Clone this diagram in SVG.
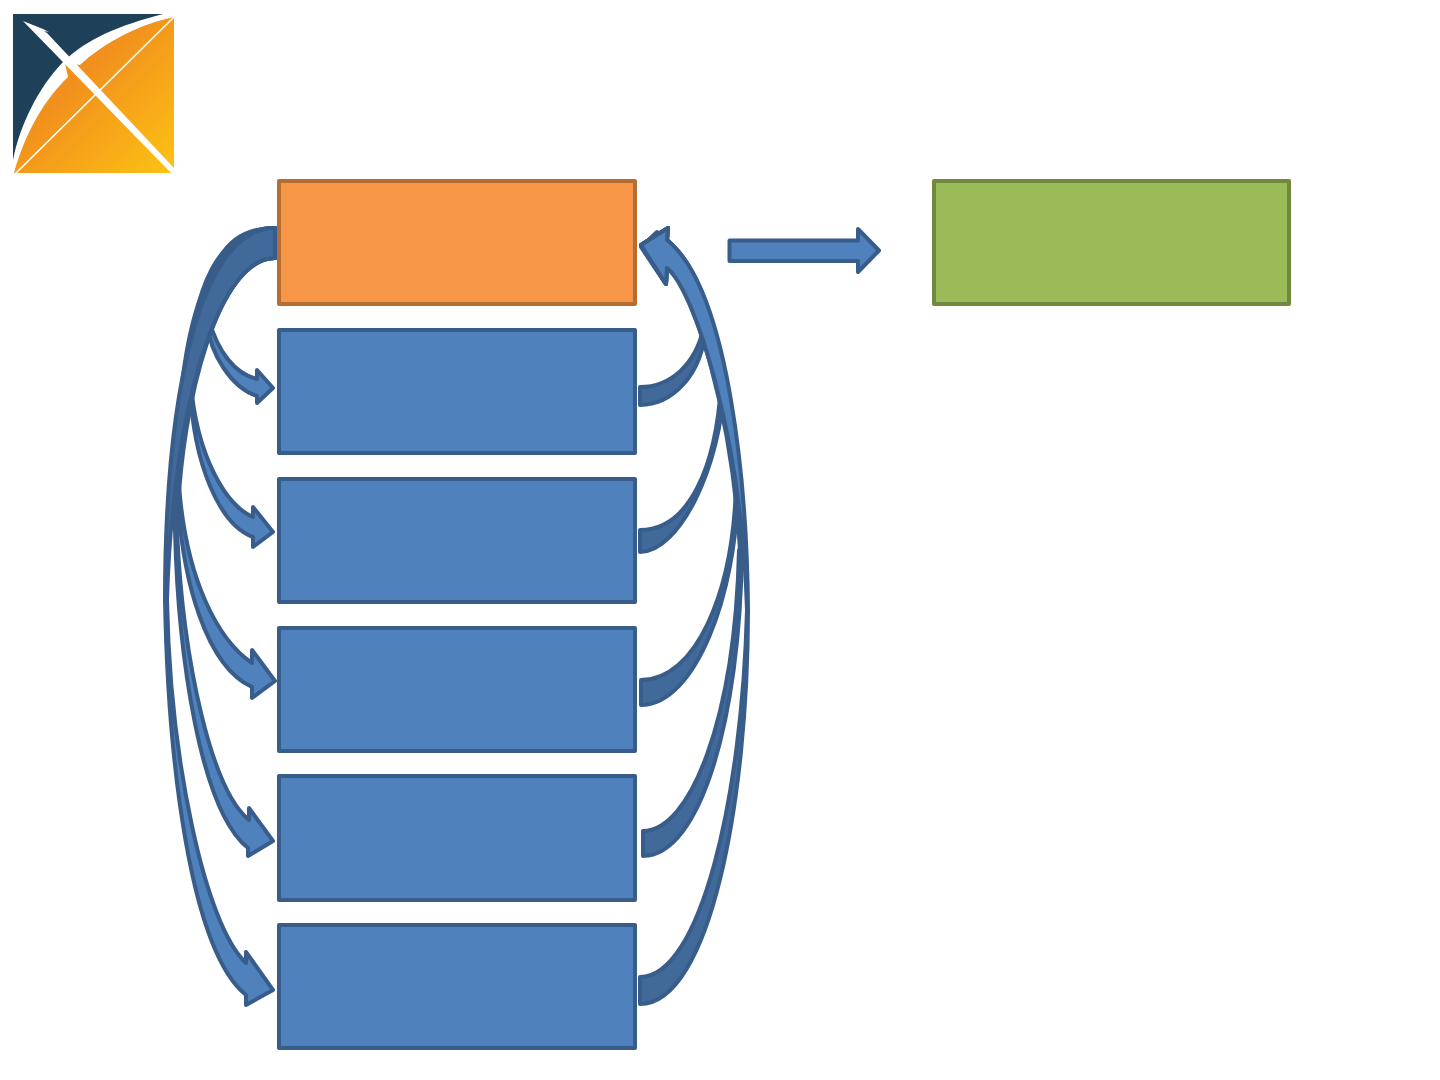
<svg xmlns="http://www.w3.org/2000/svg" width="1440" height="1080" viewBox="0 0 1440 1080">
<style>
.box{stroke-width:4;stroke-linejoin:round}
.blue{fill:#4f81bd;stroke:#385d8a}
.back{fill:#41699a;stroke:#385d8a;stroke-width:4;stroke-linejoin:round}
.front{fill:#4f81bd;stroke:#385d8a;stroke-width:4;stroke-linejoin:round}
</style>
<defs>
<linearGradient id="og" gradientUnits="userSpaceOnUse" x1="70" y1="70" x2="175" y2="175">
<stop offset="0" stop-color="#f18c1e"/><stop offset="1" stop-color="#fcc314"/>
</linearGradient>
</defs>
<rect width="1440" height="1080" fill="#fff"/>
<g id="logo">
<path d="M13,14 L163,14 C118,26 88,38 63,62 C38,88 20,125 13,160 Z" fill="#1f4059"/>
<path d="M14,173 C26,130 46,98 68,77 L65,63 L80,65 C105,42 140,24 174,17 L174,173 Z" fill="url(#og)"/>
<path d="M23,21 L43,29 L49,32 L44,31 L47,33 L174,168 L174,173 L171,173 Z" fill="#fff"/>
<path d="M15,174 L174,17" stroke="#fff" stroke-width="1.6" fill="none"/>
</g>
<g id="connectors">
<path class="back" d="M275,228 C231,228 207,258 207,322 L209,320 C222,282 248,258 275,258 Z"/>
<path class="front" d="M207,322 C210,355 232,388 257,396 L257,403 L273,388 L257,370 L257,379 C235,374 218,352 209,320 Z"/>
<path class="back" d="M275,228 C220,228 190,285 190,385 L192,385 C200,315 235,258 275,258 Z"/>
<path class="front" d="M190,385 C193,465 220,525 253,537 L253,547 L273,532 L253,507 L253,517 C225,505 197,455 191,385 Z"/>
<path class="back" d="M275,228 C208,228 177,325 177,485 L179,485 C183,375 225,258 275,258 Z"/>
<path class="front" d="M177,485 C181,585 208,667 252,687 L252,698 L275,681 L252,650 L252,663 C218,640 186,580 179,485 Z"/>
<path class="back" d="M275,228 C205,228 175,345 175,530 L177,530 C181,395 220,258 275,258 Z"/>
<path class="front" d="M175,530 C178,655 200,810 248,848 L248,856 L273,841 L249,808 L249,820 C212,790 183,665 177,530 Z"/>
<path class="back" d="M275,228 C198,228 165,400 165,600 L167,600 C172,420 215,258 275,258 Z"/>
<path class="front" d="M165,600 C168,760 190,950 246,995 L246,1005 L273,990 L246,952 L246,963 C205,925 170,760 167,600 Z"/>
<path class="back" d="M640,387 C670,387 696,365 704,326 L706,326 C702,378 670,405 640,405 Z"/>
<path class="front" d="M706,324 C698,296 685,258 667,240 L657,232 L641,247 L665,283 L667,268 C680,275 694,296 704,324 Z"/>
<path class="back" d="M640,530 C690,530 716,465 721,385 L724,385 C721,465 680,552 640,552 Z"/>
<path class="front" d="M723,385 C716,335 700,270 667,240 L668,228 L641,245 L666,284 L667,268 C690,285 713,335 721,385 Z"/>
<path class="back" d="M641,680 C695,680 733,595 736,485 L738,485 C737,595 695,705 641,705 Z"/>
<path class="front" d="M738,485 C732,395 715,280 667,240 L668,228 L641,245 L666,284 L667,268 C693,288 726,385 736,485 Z"/>
<path class="back" d="M643,831 C690,831 735,720 739,550 L742,550 C740,720 700,856 643,856 Z"/>
<path class="front" d="M742,550 C738,435 722,285 667,240 L668,228 L641,245 L666,284 L667,268 C695,290 732,415 740,550 Z"/>
<path class="back" d="M640,977 C700,977 742,800 747,610 L748,610 C748,800 710,1004 640,1004 Z"/>
<path class="front" d="M748,610 C747,490 730,290 667,240 L668,228 L641,245 L666,284 L667,268 C695,290 742,440 747,610 Z"/>
<path class="front" d="M729.5,240.5 L858,240.5 L858,229 L879,250.5 L858,272 L858,261 L729.5,261 Z"/>
</g>
<g id="node-orange"><rect class="box" x="279" y="181" width="356" height="123" fill="#f79646" stroke="#b66d31"/></g>
<g id="node-blue-1"><rect class="box blue" x="279" y="330" width="356" height="123"/></g>
<g id="node-blue-2"><rect class="box blue" x="279" y="479" width="356" height="123"/></g>
<g id="node-blue-3"><rect class="box blue" x="279" y="628" width="356" height="123"/></g>
<g id="node-blue-4"><rect class="box blue" x="279" y="776" width="356" height="124"/></g>
<g id="node-blue-5"><rect class="box blue" x="279" y="925" width="356" height="123"/></g>
<g id="node-green"><rect class="box" x="934" y="181" width="355" height="123" fill="#9bbb59" stroke="#71893f"/></g>
</svg>
